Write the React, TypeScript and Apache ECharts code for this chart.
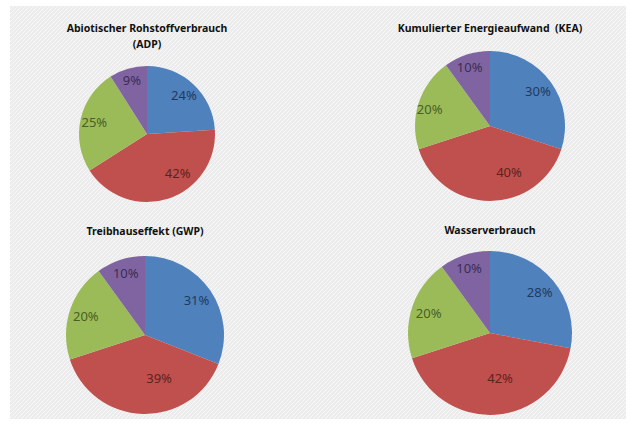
import React, { useEffect, useRef } from "react";
import * as echarts from "echarts";

const categories = ["A", "B", "C", "D"];
const titles = [
  "Abiotischer Rohstoffverbrauch\n(ADP)",
  "Kumulierter Energieaufwand  (KEA)",
  "Treibhauseffekt (GWP)",
  "Wasserverbrauch",
];
const adpValues = [24, 42, 25, 9];
const keaValues = [30, 40, 20, 10];
const gwpValues = [31, 39, 20, 10];
const wasserValues = [28, 42, 20, 10];

const sliceColors = ["#4f81bd", "#c0504d", "#9bbb59", "#8064a2"];
const labelColors = ["#1f3a60", "#5e2220", "#4a5e26", "#3b2d52"];

const pies = [
  { values: adpValues, cx: 147, cy: 134, r: 68, tx: 147, ty: 20, offsets: [[0, 0], [14, -12], [0, 0], [0, -2]] },
  { values: keaValues, cx: 490, cy: 126, r: 75, tx: 490, ty: 20, offsets: [[0, 0], [19, -13], [-4, 1], [-2, -3]] },
  { values: gwpValues, cx: 145, cy: 335, r: 79, tx: 145, ty: 223, offsets: [[0, 0], [16, -19], [0, 0], [0, -3]] },
  { values: wasserValues, cx: 490, cy: 333, r: 82, tx: 490, ty: 222, offsets: [[0, 0], [6, -19], [0, 0], [-1, -4]] },
];

function makeStripes(): string {
  const c = document.createElement("canvas");
  c.width = 4;
  c.height = 4;
  const ctx = c.getContext("2d");
  if (!ctx) return "";
  ctx.fillStyle = "#ececec";
  ctx.fillRect(0, 0, 4, 4);
  ctx.fillStyle = "#f8f8f8";
  for (let i = 0; i < 4; i++) {
    ctx.fillRect(i, 3 - i, 1, 1);
  }
  return c.toDataURL();
}

export default function App() {
  const ref = useRef<HTMLDivElement>(null);
  useEffect(() => {
    if (!ref.current) return;
    const chart = echarts.init(ref.current, null, { renderer: "svg" });
    const stripes = makeStripes();
    const series: any[] = [];
    pies.forEach((p) => {
      series.push({
        type: "pie",
        center: [p.cx, p.cy],
        radius: [0, p.r],
        startAngle: 90,
        clockwise: true,
        silent: true,
        label: { show: false },
        labelLine: { show: false },
        itemStyle: { borderWidth: 0 },
        emphasis: { disabled: true },
        data: p.values.map((v, i) => ({
          name: categories[i],
          value: v,
          itemStyle: { color: sliceColors[i] },
        })),
      });
      series.push({
        type: "pie",
        center: [p.cx, p.cy],
        radius: [p.r * 0.5, p.r],
        startAngle: 90,
        clockwise: true,
        silent: true,
        itemStyle: { color: "rgba(0,0,0,0)", borderWidth: 0 },
        emphasis: { disabled: true },
        labelLine: { show: false },
        data: p.values.map((v, i) => ({
          name: categories[i],
          value: v,
          label: {
            show: true,
            position: "inside",
            formatter: v + "%",
            color: labelColors[i],
            fontSize: 13,
            fontFamily: "Noto Sans",
            offset: p.offsets[i],
          },
        })),
      });
    });
    chart.setOption({
      animation: false,
      backgroundColor: "#ffffff",
      graphic: [
        {
          type: "rect",
          z: -10,
          shape: { x: 10, y: 6, width: 616, height: 413 },
          style: { fill: stripes ? { image: stripes, repeat: "repeat" } : "#efefef" },
          silent: true,
        },
        ...pies.map((p, i) => ({
          type: "text",
          x: p.tx,
          y: p.ty,
          style: {
            text: titles[i],
            textAlign: "center",
            textVerticalAlign: "top",
            fontFamily: "Noto Sans",
            fontWeight: "bold",
            fontSize: 10.5,
            lineHeight: 16,
            fill: "#111111",
          },
        })),
      ],
      series,
    });
    return () => chart.dispose();
  }, []);
  return (
    <div
      ref={ref}
      style={{ position: "fixed", left: 0, top: 0, width: 633, height: 424 }}
    />
  );
}
